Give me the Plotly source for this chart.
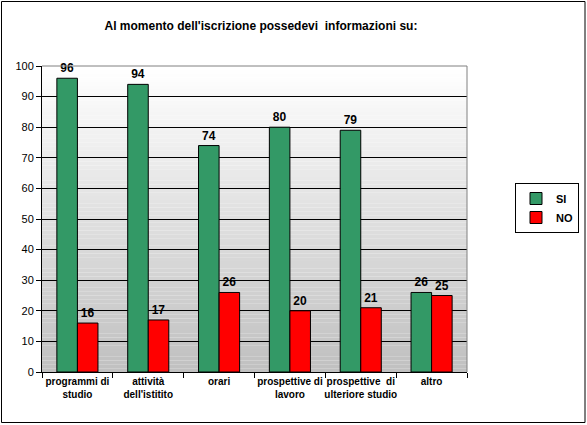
import plotly.graph_objects as go

# data
categories = ["programmi di<br>studio", "attività<br>dell'istitito", "orari",
              "prospettive di<br>lavoro", "prospettive  di<br>ulteriore studio", "altro"]
si_values = [96, 94, 74, 80, 79, 26]
no_values = [16, 17, 26, 20, 21, 25]
y_ticks = [0, 10, 20, 30, 40, 50, 60, 70, 80, 90, 100]

FONT = "Arial, Liberation Sans, sans-serif"
W, H = 587, 425
L, R, T, B = 42, 120, 66, 53  # plot area margins in px

fig = go.Figure()
fig.add_trace(go.Bar(x=categories, y=si_values, name="SI",
                     marker=dict(color="#339966", line=dict(color="black", width=1)),
                     text=si_values, textposition="outside", cliponaxis=False,
                     textfont=dict(family=FONT, size=12, color="black", weight="bold")))
fig.add_trace(go.Bar(x=categories, y=no_values, name="NO",
                     marker=dict(color="#ff0000", line=dict(color="black", width=1)),
                     text=no_values, textposition="outside", cliponaxis=False,
                     textfont=dict(family=FONT, size=12, color="black", weight="bold")))

# gradient background of the plot area (white at top -> grey at bottom)
shapes = []
n = 80
for i in range(n):
    f = i / (n - 1)
    c = int(round(255 - (255 - 192) * (1 - f)))
    shapes.append(dict(type="rect", xref="x domain", yref="y domain",
                       x0=0, x1=1, y0=i / n, y1=(i + 1) / n, layer="below",
                       line=dict(width=0), fillcolor=f"rgb({c},{c},{c})"))
# grey top / right frame of the plot area
shapes.append(dict(type="line", xref="x domain", yref="y domain", x0=0, x1=1, y0=1, y1=1,
                   line=dict(color="#808080", width=1), layer="above"))
shapes.append(dict(type="line", xref="x domain", yref="y domain", x0=1, x1=1, y0=0, y1=1,
                   line=dict(color="#808080", width=1), layer="above"))
# outer chart border
pw, ph = W - L - R, H - T - B
shapes.append(dict(type="rect", xref="paper", yref="paper",
                   x0=(1.5 - L) / pw, x1=(W - 2 - L) / pw,
                   y0=(H - B - (H - 2.5)) / ph, y1=(H - B - 1.5) / ph,
                   line=dict(color="black", width=1), layer="above"))

fig.update_layout(
    width=W, height=H,
    margin=dict(l=L, r=R, t=T, b=B, autoexpand=False),
    paper_bgcolor="white", plot_bgcolor="rgba(0,0,0,0)",
    font=dict(family=FONT, color="black"),
    title=dict(text="Al momento dell'iscrizione possedevi  informazioni su:",
               x=261 / W, xref="container", xanchor="center", y=1 - 26 / H, yanchor="middle",
               font=dict(size=12, family=FONT, weight="bold")),
    barmode="group", bargap=0.42, bargroupgap=0,
    shapes=shapes,
    legend=dict(x=(579 - L) / pw, y=(H - B - 183) / ph, xanchor="right", yanchor="top",
                bordercolor="black", borderwidth=1, bgcolor="white",
                font=dict(size=11, family=FONT, weight="bold"), itemwidth=30),
    showlegend=True,
)

fig.update_xaxes(showline=True, linecolor="black", linewidth=1, tickangle=0,
                 ticks="outside", tickson="boundaries", ticklen=5, tickcolor="black",
                 tickfont=dict(size=10, family=FONT, weight="bold"), showgrid=False)
fig.update_yaxes(range=[0, 100], tickvals=y_ticks, showline=True, linecolor="black",
                 linewidth=1, ticks="outside", ticklen=5, tickcolor="black",
                 showgrid=True, gridcolor="black", gridwidth=1, zeroline=False,
                 tickfont=dict(size=11, family=FONT))

# the page body has a default 8px margin; remove it so the figure fills the window
fig.write_html("out.html", config=dict(displayModeBar=False),
               post_script="document.body.style.margin='0';")
